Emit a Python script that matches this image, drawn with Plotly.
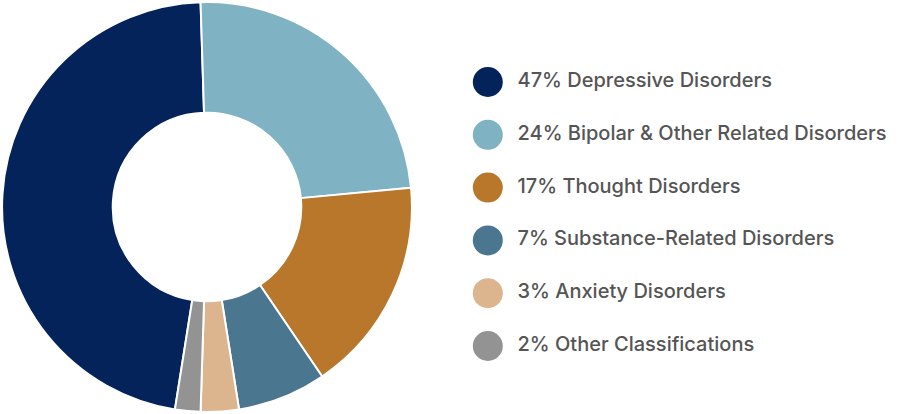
import plotly.graph_objects as go

# share of cases by classification
labels = ["Depressive Disorders", "Bipolar & Other Related Disorders", "Thought Disorders",
          "Substance-Related Disorders", "Anxiety Disorders", "Other Classifications"]
values = [47, 24, 17, 7, 3, 2]
colors = ["#03235a", "#7fb3c4", "#b8772b", "#4b7690", "#dcb58f", "#939393"]

legend_text = [f"{v}% {l}" for v, l in zip(values, labels)]
legend_rank = list(range(len(labels)))[::-1]  # top item first

fig = go.Figure()

fig.add_trace(go.Pie(
    labels=labels, values=values, sort=False, direction="clockwise",
    rotation=189, hole=0.46,
    marker=dict(colors=colors, line=dict(color="white", width=2)),
    textinfo="none", hoverinfo="label+percent", showlegend=False,
    domain=dict(x=[0, 414 / 900], y=[0.005, 0.995]),
))

# legend drawn as a column of dots plus a column of labels
fig.add_trace(go.Scatter(
    x=[0.084] * len(labels), y=legend_rank, mode="markers",
    marker=dict(size=30, color=colors),
    hoverinfo="skip", showlegend=False,
))
fig.add_trace(go.Scatter(
    x=[0.15] * len(labels), y=legend_rank, mode="text",
    text=legend_text, textposition="middle right",
    textfont=dict(family="Inter", size=20, color="#555555", weight=500),
    hoverinfo="skip", showlegend=False,
))

fig.update_layout(
    width=900, height=414,
    margin=dict(l=0, r=0, t=0, b=0),
    paper_bgcolor="white", plot_bgcolor="white",
    xaxis=dict(domain=[0.5, 1], range=[0, 1], visible=False, fixedrange=True),
    yaxis=dict(domain=[0, 1], range=[-1.288, 6.553], visible=False, fixedrange=True),
)

fig.write_html("out.html", config=dict(displayModeBar=False),
               post_script="document.body.style.margin='0';")
